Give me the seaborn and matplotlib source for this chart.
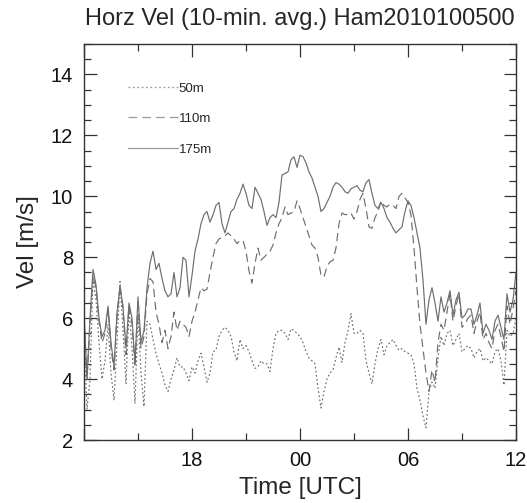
import numpy as np
import pandas as pd
import seaborn as sns
import matplotlib.pyplot as plt
from matplotlib.ticker import FixedLocator, MultipleLocator

sns.set_style("white")
plt.rcParams['font.family'] = ['Liberation Sans', 'DejaVu Sans']

# 10-min averages, hours since 12 UTC
hours = np.arange(145) / 6.0

vel_175 = [6.2, 4.0, 6.0, 7.6, 7.1, 6.0, 5.4, 5.6, 6.4, 5.2, 4.4, 6.2, 7.0, 6.4, 5.0, 6.5,
           6.0, 4.5, 6.7, 5.2, 5.6, 7.0, 7.8, 8.2, 7.6, 7.8, 7.3, 6.9, 6.7, 6.8, 7.5, 6.7,
           7.0, 8.0, 7.9, 6.7, 7.4, 8.2, 8.6, 9.1, 9.4, 9.5, 9.15, 9.4, 9.7, 9.8, 9.1, 8.8,
           9.15, 9.5, 9.6, 9.9, 10.1, 10.4, 10.1, 9.7, 9.6, 10.3, 10.1, 9.9, 9.5, 9.05, 9.3, 9.4,
           9.3, 9.8, 10.7, 10.75, 10.8, 11.2, 11.3, 10.95, 11.35, 11.3, 11.1, 10.8, 10.6, 10.3, 10.0, 9.5,
           9.6, 9.8, 10.0, 10.3, 10.45, 10.4, 10.3, 10.15, 10.1, 10.25, 10.3, 10.35, 10.2, 10.15, 10.45, 10.55,
           10.1, 9.7, 9.6, 9.8, 9.6, 9.3, 9.15, 8.95, 8.8, 8.9, 9.0, 9.5, 9.85, 9.7, 9.3, 8.8,
           8.3, 7.25, 5.8, 6.6, 7.0, 6.5, 5.9, 6.7, 6.2, 6.5, 6.9, 6.1, 6.6, 6.85, 6.0, 6.1,
           6.3, 6.3, 5.8, 6.1, 6.5, 5.5, 5.8, 5.6, 5.3, 5.9, 6.1, 5.7, 5.3, 6.8, 6.2, 6.6, 7.5]

vel_110 = [6.0, 4.0, 5.8, 7.4, 7.0, 5.9, 5.2, 5.5, 6.3, 5.0, 4.3, 6.0, 7.1, 6.3, 4.8, 6.4,
           5.8, 4.4, 6.6, 5.0, 5.4, 6.8, 7.3, 7.2, 6.2, 5.8, 5.2, 5.6, 5.0, 5.4, 6.2, 5.6,
           5.9, 5.8, 5.7, 5.4, 5.9, 6.2, 6.6, 7.0, 6.9, 6.95, 7.5, 8.0, 8.45, 8.6, 8.65, 8.7,
           8.8, 8.7, 8.6, 8.45, 8.55, 8.55, 8.2, 7.55, 7.15, 7.8, 8.3, 7.9, 8.0, 8.1, 8.2, 8.4,
           8.8, 9.1, 9.3, 9.65, 9.4, 9.45, 9.5, 9.85, 9.6, 9.3, 9.0, 8.7, 8.4, 8.3, 8.0, 7.4,
           7.35, 7.7, 7.85, 7.9, 8.3, 9.1, 9.45, 9.4, 9.4, 9.45, 9.25, 9.5, 9.9, 10.1, 9.6, 9.0,
           8.95, 9.3, 9.5, 9.85, 9.7, 9.65, 9.75, 9.7, 9.6, 10.0, 10.1, 9.95, 9.8, 9.4, 8.3, 7.0,
           5.8, 5.0, 4.2, 3.6, 4.3, 3.9, 5.2, 5.8, 5.6, 6.2, 6.8, 5.9, 6.4, 6.8, 5.7, 5.8,
           6.0, 6.1, 5.5, 5.9, 6.2, 5.3, 5.5, 5.2, 5.0, 5.6, 5.8, 5.4, 4.9, 6.4, 5.8, 6.3, 6.9]

vel_50 = [5.5, 3.0, 4.0, 7.3, 6.6, 5.2, 4.0, 4.6, 5.8, 4.2, 3.3, 5.2, 7.2, 5.6, 3.85, 6.3,
          5.0, 3.2, 6.1, 4.2, 3.1, 5.9, 5.8, 5.3, 4.85, 4.5, 4.2, 3.8, 3.6, 4.0, 4.3, 4.7,
          4.4, 4.4, 4.2, 3.95, 4.4, 4.2, 4.6, 4.85, 4.4, 3.9, 4.2, 4.9, 4.95, 5.4, 5.6, 5.7,
          5.6, 5.4, 4.9, 4.6, 5.3, 5.0, 5.1, 4.9, 4.6, 4.35, 4.4, 4.6, 4.5, 4.5, 4.25, 5.0,
          5.5, 5.6, 5.6, 5.5, 5.3, 5.65, 5.6, 5.5, 5.4, 5.2, 4.9, 4.7, 4.6, 4.5, 3.7, 3.05,
          3.6, 4.0, 4.2, 4.3, 4.7, 5.05, 4.55, 5.2, 5.6, 6.15, 5.5, 5.5, 5.6, 5.5, 4.6, 4.2,
          3.85, 4.5, 5.0, 5.3, 4.8, 5.1, 5.2, 5.3, 5.1, 4.95, 5.0, 4.9, 4.85, 4.8, 4.5, 3.7,
          3.3, 2.8, 2.4, 3.6, 3.9, 3.7, 4.7, 5.4, 5.1, 5.5, 5.6, 5.1, 5.3, 5.5, 4.9, 5.0,
          5.1, 5.0, 4.7, 4.9, 5.0, 4.6, 4.7, 4.6, 4.5, 4.9, 5.0, 4.6, 3.8, 5.6, 5.4, 5.5, 6.0]

heights = ['50m', '110m', '175m']
series = [vel_50, vel_110, vel_175]
styles = [(0, (1.5, 2.0)), (0, (7, 4)), '-']

x_ticks = [0, 6, 12, 18, 24]
x_labels = ['', '18', '00', '06', '12']

fig = plt.figure(figsize=(5.27, 5.03), dpi=100)
ax = fig.add_axes([0.1594, 0.1252, 0.8197, 0.7873])

for name, vals, ls in zip(heights, series, styles):
    sns.lineplot(x=hours, y=vals, ax=ax, color='#6e6e6e', linewidth=0.85,
                 linestyle=ls, label=name)

ax.set_xlim(0, 24)
ax.set_ylim(2, 15)
ax.xaxis.set_major_locator(FixedLocator(x_ticks))
ax.set_xticklabels(x_labels)
ax.xaxis.set_minor_locator(MultipleLocator(3))
ax.yaxis.set_major_locator(FixedLocator([2, 4, 6, 8, 10, 12, 14]))
ax.yaxis.set_minor_locator(MultipleLocator(0.5))

ax.tick_params(which='both', direction='in', top=True, right=True, bottom=True, left=True,
               colors='#333333', labelcolor='#111111', width=0.9)
ax.tick_params(which='major', length=9, labelsize=14.5, pad=8)
ax.tick_params(which='minor', length=5)
for s in ax.spines.values():
    s.set_color('#333333')
    s.set_linewidth(1.0)

ax.set_title('Horz Vel (10-min. avg.) Ham2010100500', fontsize=17, pad=14)
ax.set_xlabel('Time [UTC]', fontsize=17.5, labelpad=5)
ax.set_ylabel('Vel [m/s]', fontsize=17.5, labelpad=8)

leg = ax.legend(loc='upper left', bbox_to_anchor=(0.102, 0.903), frameon=False,
                borderpad=0, borderaxespad=0, fontsize=9.5, handlelength=3.8,
                handletextpad=0.05, labelspacing=1.38)
for ln in leg.get_lines():
    ln.set_color('#9a9a9a')
    ln.set_linewidth(0.9)

fig.savefig('out.png', dpi=100)
